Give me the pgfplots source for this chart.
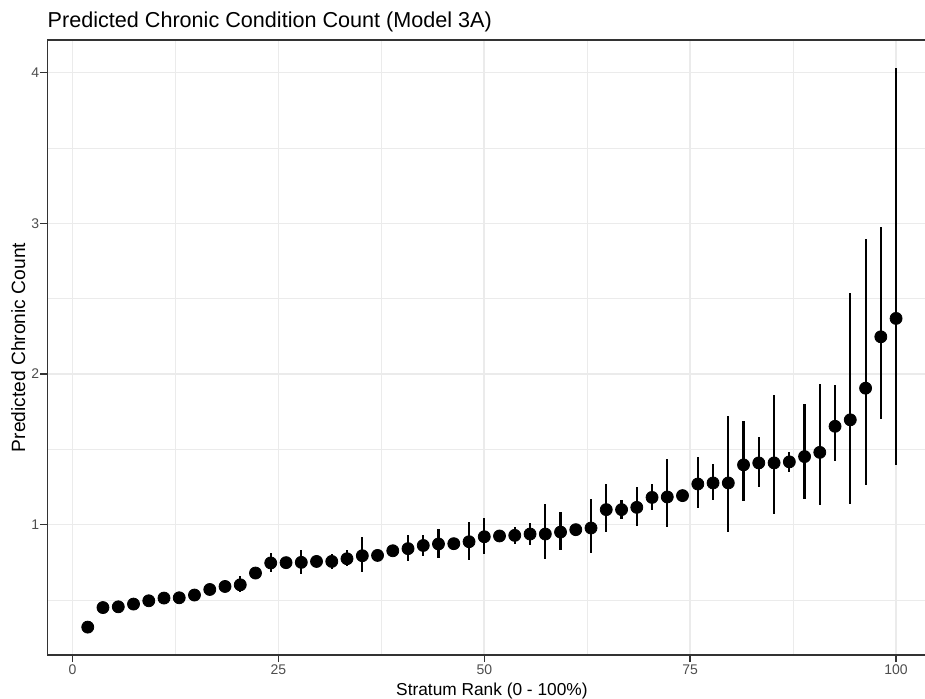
\documentclass[border=0pt]{standalone}
\usepackage{pgfplots}
\pgfplotsset{compat=1.18}
\usepackage{pgfplotstable}
\usepackage{fontspec}
\setmainfont{Liberation Sans}
\definecolor{grid92}{HTML}{EBEBEB}
\definecolor{grey20}{HTML}{333333}
\definecolor{grey30}{HTML}{4D4D4D}

\pgfplotstableread{
x y ep em
1.85 0.320 0 0
3.70 0.450 0 0
5.56 0.455 0 0
7.41 0.473 0 0
9.26 0.495 0 0
11.11 0.513 0 0
12.96 0.515 0 0
14.81 0.533 0 0
16.67 0.570 0 0
18.52 0.590 0 0
20.37 0.601 0.060 0.051
22.22 0.679 0 0
24.07 0.746 0.066 0.063
25.93 0.748 0 0
27.78 0.750 0.079 0.076
29.63 0.756 0 0
31.48 0.756 0.051 0.050
33.33 0.774 0.055 0.051
35.19 0.794 0.124 0.108
37.04 0.796 0 0
38.89 0.827 0 0
40.74 0.841 0.091 0.085
42.59 0.862 0.070 0.068
44.44 0.872 0.099 0.093
46.30 0.874 0 0
48.15 0.887 0.131 0.120
50.00 0.920 0.125 0.113
51.85 0.925 0 0
53.70 0.929 0.053 0.055
55.56 0.938 0.073 0.076
57.41 0.938 0.202 0.166
59.26 0.951 0.133 0.117
61.11 0.967 0 0
62.96 0.978 0.195 0.166
64.81 1.100 0.172 0.151
66.67 1.100 0.066 0.062
68.52 1.115 0.135 0.122
70.37 1.181 0.089 0.081
72.22 1.184 0.253 0.202
74.07 1.193 0 0
75.93 1.270 0.180 0.159
77.78 1.277 0.126 0.116
79.63 1.277 0.443 0.326
81.48 1.397 0.289 0.238
83.33 1.410 0.170 0.160
85.19 1.410 0.454 0.339
87.04 1.417 0.066 0.069
88.89 1.452 0.352 0.281
90.74 1.480 0.457 0.352
92.59 1.653 0.273 0.232
94.44 1.696 0.844 0.556
96.30 1.906 0.988 0.640
98.15 2.247 0.728 0.545
100.00 2.369 1.661 0.975
}\datatab

\begin{document}
\begin{tikzpicture}
\begin{axis}[
  name=ax, at={(0,0)}, anchor=south west,
  scale only axis, width=444.6pt, height=307.5pt,
  xmin=-3.06, xmax=104.91, ymin=0.135, ymax=4.217,
  xtick={0,25,50,75,100}, ytick={1,2,3,4},
  minor xtick={12.5,37.5,62.5,87.5}, minor ytick={0.5,1.5,2.5,3.5},
  grid=both,
  major grid style={grid92, line width=0.8pt},
  minor grid style={grid92, line width=0.4pt},
  axis line style={grey20, line width=0.7pt},
  major tick style={grey20, line width=0.7pt},
  major tick length=3.5pt, minor tick length=0pt, tick align=outside,
  xtick pos=left, ytick pos=left,
  ticklabel style={font=\fontsize{7}{8}\selectfont, text=grey30},
  xticklabel style={yshift=2pt},
  yticklabel style={xshift=3pt},
  /pgf/number format/assume math mode=true,
  title={Predicted Chronic Condition Count (Model 3A)},
  title style={font=\fontsize{10.8}{13}\selectfont, at={(0,1)}, anchor=base west, yshift=0.15pt, inner sep=0pt},
  xlabel={Stratum Rank (0 - 100\%)},
  xlabel style={font=\fontsize{8.65}{10}\selectfont, at={(axis description cs:0.5,0)}, anchor=base, yshift=-20.4pt, inner sep=0pt},
  ylabel={Predicted Chronic Count},
  ylabel style={font=\fontsize{9.6}{11}\selectfont, at={(axis description cs:-0.0326,0.5)}, anchor=center, inner sep=0pt},
]
\addplot[only marks, mark=*, mark size=3pt, black,
  error bars/.cd, y dir=both, y explicit,
  error bar style={line width=1.1pt, black}, error mark=none]
  table[x=x, y=y, y error plus=ep, y error minus=em] {\datatab};
\end{axis}
\pgfresetboundingbox
\path[use as bounding box] ([xshift=-23.65pt,yshift=-21.5pt]ax.south west) rectangle ([xshift=438.85pt,yshift=327.5pt]ax.south west);
\end{tikzpicture}
\end{document}
